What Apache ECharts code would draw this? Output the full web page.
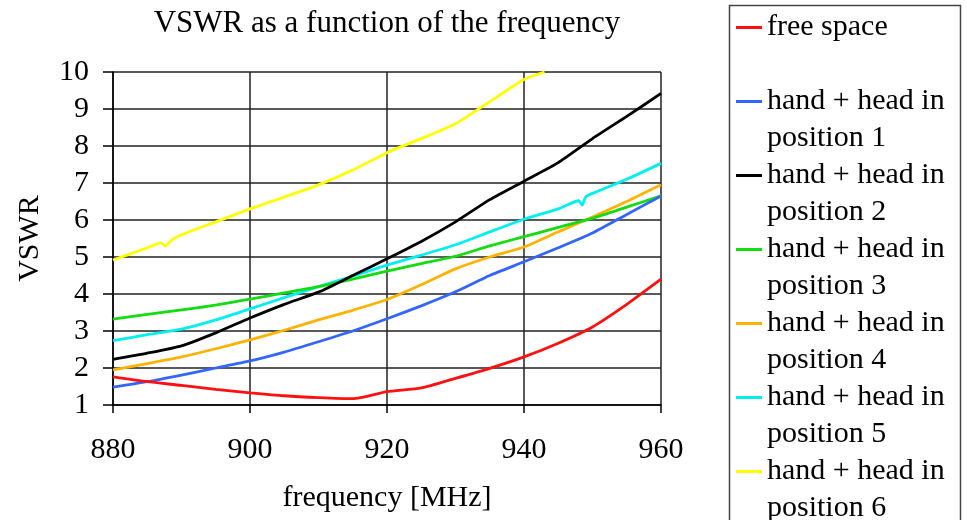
<!DOCTYPE html>
<html>
<head>
<meta charset="utf-8">
<script src="https://cdn.jsdelivr.net/npm/echarts@6/dist/echarts.min.js"></script>
<style>html,body{margin:0;padding:0;background:#fff;}#c{width:967px;height:520px;}</style>
</head>
<body>
<div id="c"></div>
<script>
// ---- data ----
const seriesNames = ['free space', 'hand + head in position 1', 'hand + head in position 2', 'hand + head in position 3', 'hand + head in position 4', 'hand + head in position 5', 'hand + head in position 6'];
const freq = [880, 885, 890, 895, 900, 905, 910, 915, 920, 925, 930, 935, 940, 945, 950, 955, 960];
const freeSpace = [1.76, 1.63, 1.53, 1.42, 1.33, 1.25, 1.2, 1.17, 1.36, 1.46, 1.72, 1.99, 2.3, 2.67, 3.11, 3.72, 4.4];
const pos1 = [1.48, 1.63, 1.81, 2.0, 2.19, 2.43, 2.71, 3.0, 3.33, 3.68, 4.06, 4.5, 4.87, 5.25, 5.65, 6.15, 6.65];
const pos2 = [2.23, 2.4, 2.6, 2.95, 3.35, 3.72, 4.05, 4.5, 4.95, 5.42, 5.95, 6.55, 7.05, 7.55, 8.2, 8.8, 9.42];
const pos3 = [3.32, 3.45, 3.57, 3.7, 3.86, 4.03, 4.2, 4.4, 4.62, 4.82, 5.02, 5.3, 5.55, 5.8, 6.05, 6.35, 6.65];
const pos4 = [1.95, 2.12, 2.3, 2.52, 2.76, 3.02, 3.3, 3.56, 3.85, 4.25, 4.68, 5.0, 5.27, 5.68, 6.08, 6.5, 6.95];
const freqPos5 = [880, 885, 890, 895, 900, 905, 910, 915, 920, 925, 930, 935, 940, 945, 948, 948.5, 949, 950, 955, 960];
const pos5 = [2.74, 2.9, 3.05, 3.3, 3.6, 3.9, 4.2, 4.48, 4.78, 5.05, 5.33, 5.68, 6.02, 6.3, 6.52, 6.4, 6.62, 6.72, 7.1, 7.53];
const freqPos6 = [880, 885, 887, 887.7, 888.5, 890, 895, 900, 905, 910, 915, 920, 925, 930, 935, 940, 943];
const pos6 = [4.92, 5.25, 5.38, 5.3, 5.45, 5.6, 5.95, 6.3, 6.62, 6.95, 7.35, 7.82, 8.2, 8.6, 9.2, 9.8, 10.0];
const xTicks = [880, 900, 920, 940, 960];
const yTicks = [1, 2, 3, 4, 5, 6, 7, 8, 9, 10];
const colors = ['#ff1010', '#3366ff', '#000000', '#11dd11', '#ffb300', '#00f0f0', '#ffff00'];

// ---- build ----
const pairs = (xs, ys) => xs.map((x, i) => [x, ys[i]]);
const seriesData = [
  pairs(freq, freeSpace), pairs(freq, pos1), pairs(freq, pos2), pairs(freq, pos3),
  pairs(freq, pos4), pairs(freqPos5, pos5), pairs(freqPos6, pos6)
];
const FONT = 'Liberation Serif';
const chart = echarts.init(document.getElementById('c'), null, {renderer: 'canvas'});
const wrapName = (n) => n === 'free space' ? '\nfree space\n' : '\n' + n.replace(' position', '\nposition');
chart.setOption({
  animation: false,
  backgroundColor: '#fff',
  title: {
    text: 'VSWR as a function of the frequency',
    left: 387, top: 8, textAlign: 'center', padding: 0,
    textStyle: {fontFamily: FONT, fontSize: 31, fontWeight: 'normal', color: '#000'}
  },
  grid: {left: 113, right: 306, top: 72, bottom: 115, containLabel: false},
  legend: {
    orient: 'vertical', left: 736, top: -28, height: 700, padding: 0,
    icon: 'rect', itemWidth: 26, itemHeight: 3, itemGap: -37,
    data: seriesNames,
    formatter: wrapName,
    textStyle: {fontFamily: FONT, fontSize: 30, lineHeight: 37, color: '#000'}
  },
  xAxis: {
    type: 'value', min: xTicks[0], max: xTicks[xTicks.length - 1], interval: 20,
    name: 'frequency [MHz]', nameLocation: 'middle', nameGap: 78,
    nameTextStyle: {fontFamily: FONT, fontSize: 30, color: '#000'},
    axisLine: {lineStyle: {color: '#000', width: 1.5}},
    axisTick: {show: true, length: 8, lineStyle: {color: '#000', width: 1.5}},
    axisLabel: {margin: 30, fontFamily: FONT, fontSize: 30, color: '#000'},
    splitLine: {show: true, lineStyle: {color: '#222', width: 1.5}}
  },
  yAxis: {
    type: 'value', min: yTicks[0], max: yTicks[yTicks.length - 1], interval: 1,
    name: 'VSWR', nameLocation: 'middle', nameGap: 68,
    nameTextStyle: {fontFamily: FONT, fontSize: 30, color: '#000'},
    axisLine: {show: true, lineStyle: {color: '#000', width: 1.5}},
    axisTick: {show: true, length: 10, lineStyle: {color: '#000', width: 1.5}},
    axisLabel: {margin: 24, fontFamily: FONT, fontSize: 30, color: '#000'},
    splitLine: {show: true, lineStyle: {color: '#222', width: 1.5}}
  },
  graphic: [{
    type: 'rect', left: 727, top: 3, shape: {width: 231, height: 540},
    style: {fill: 'none', stroke: '#444', lineWidth: 1.5}, silent: true
  }],
  series: seriesNames.map((name, i) => ({
    name: name, type: 'line', data: seriesData[i],
    symbol: 'none', showSymbol: false,
    smooth: 0.2, clip: true,
    color: colors[i],
    itemStyle: {color: colors[i]},
    lineStyle: {color: colors[i], width: 2.8},
    z: 10 - i
  }))
});
</script>
</body>
</html>
